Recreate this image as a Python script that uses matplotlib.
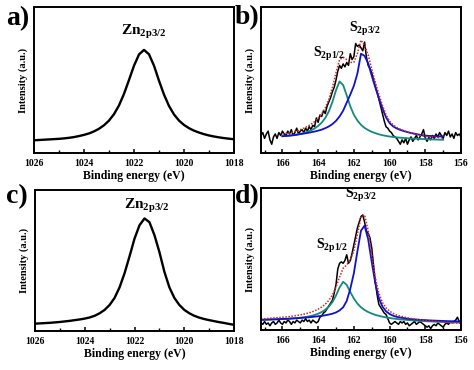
import numpy as np
import matplotlib
matplotlib.use("Agg")
import matplotlib.pyplot as plt
from matplotlib.ticker import MultipleLocator

plt.rcParams['font.family'] = ['Liberation Serif', 'DejaVu Serif']
plt.rcParams['font.weight'] = 'bold'
plt.rcParams['mathtext.fontset'] = 'custom'
plt.rcParams['mathtext.rm'] = 'Liberation Serif:bold'
plt.rcParams['mathtext.bf'] = 'Liberation Serif:bold'
plt.rcParams['mathtext.it'] = 'Liberation Serif:bold'

# Zn 2p3/2 spectra (a, c), energy grid 1026 -> 1018 step 0.2 eV
zn_start, zn_step = 1026.0, -0.2
zn_a = [0.087, 0.089, 0.091, 0.093, 0.095, 0.097, 0.100, 0.104, 0.109, 0.116,
        0.124, 0.134, 0.148, 0.166, 0.190, 0.222, 0.266, 0.326, 0.405, 0.500,
        0.598, 0.675, 0.706, 0.676, 0.598, 0.495, 0.400, 0.322, 0.264, 0.222,
        0.192, 0.170, 0.153, 0.140, 0.129, 0.120, 0.113, 0.107, 0.102, 0.098,
        0.094]
zn_c = [0.052, 0.054, 0.056, 0.058, 0.061, 0.064, 0.068, 0.072, 0.077, 0.082,
        0.088, 0.096, 0.108, 0.126, 0.150, 0.185, 0.235, 0.310, 0.410, 0.530,
        0.655, 0.750, 0.798, 0.772, 0.680, 0.560, 0.420, 0.310, 0.235, 0.185,
        0.150, 0.126, 0.108, 0.095, 0.085, 0.077, 0.070, 0.063, 0.057, 0.050,
        0.044]

# S 2p raw data, energy grid 167.2 -> 156.0 step 0.1 eV
raw_start, raw_step = 167.2, -0.1
raw_b = [0.12, 0.14, 0.10, 0.13, 0.15, 0.09, 0.06, 0.11, 0.13, 0.10,
         0.14, 0.12, 0.15, 0.13, 0.12, 0.15, 0.13, 0.16, 0.12, 0.14,
         0.17, 0.13, 0.15, 0.16, 0.14, 0.17, 0.15, 0.18, 0.16, 0.19,
         0.18, 0.24, 0.21, 0.26, 0.25, 0.29, 0.27, 0.32, 0.35, 0.38,
         0.42, 0.45, 0.50, 0.56, 0.60, 0.58, 0.61, 0.59, 0.62, 0.60,
         0.68, 0.64, 0.66, 0.75, 0.73, 0.74, 0.72, 0.70, 0.76, 0.66,
         0.60, 0.58, 0.55, 0.50, 0.46, 0.42, 0.37, 0.32, 0.27, 0.22,
         0.18, 0.17, 0.15, 0.14, 0.12, 0.11, 0.10, 0.08, 0.06, 0.09,
         0.07, 0.10, 0.06, 0.09, 0.11, 0.08, 0.10, 0.12, 0.09, 0.11,
         0.13, 0.16, 0.10, 0.08, 0.11, 0.09, 0.12, 0.10, 0.13, 0.11,
         0.14, 0.12, 0.10, 0.14, 0.12, 0.15, 0.11, 0.13, 0.10, 0.14,
         0.12, 0.13, 0.11]
raw_d = [0.05, 0.04, 0.06, 0.04, 0.05, 0.03, 0.05, 0.06, 0.04, 0.05,
         0.07, 0.05, 0.04, 0.06, 0.05, 0.07, 0.06, 0.04, 0.06, 0.05,
         0.07, 0.06, 0.05, 0.07, 0.06, 0.08, 0.06, 0.07, 0.05, 0.07,
         0.06, 0.05, 0.06, 0.09, 0.10, 0.12, 0.13, 0.15, 0.17, 0.19,
         0.21, 0.26, 0.32, 0.43, 0.47, 0.48, 0.47, 0.49, 0.53, 0.47,
         0.49, 0.54, 0.60, 0.66, 0.72, 0.76, 0.80, 0.81, 0.76, 0.70,
         0.68, 0.65, 0.58, 0.46, 0.34, 0.25, 0.18, 0.16, 0.14, 0.12,
         0.11, 0.08, 0.05, 0.04, 0.05, 0.06, 0.05, 0.04, 0.06, 0.05,
         0.06, 0.04, 0.05, 0.03, 0.04, 0.05, 0.06, 0.04, 0.05, 0.06,
         0.05, 0.04, 0.03, 0.02, 0.03, 0.01, 0.03, 0.04, 0.03, 0.05,
         0.04, 0.03, 0.02, 0.04, 0.05, 0.04, 0.06, 0.05, 0.06, 0.07,
         0.09, 0.06, 0.06]

# fitted components, panel b: 166.0 -> 157.0 step 0.2 eV
fit_b_start, fit_step = 166.0, -0.2
s12_b = [0.115, 0.117, 0.119, 0.122, 0.126, 0.131, 0.137, 0.145, 0.155, 0.168,
         0.185, 0.208, 0.240, 0.285, 0.350, 0.430, 0.490, 0.465, 0.395, 0.320,
         0.262, 0.222, 0.193, 0.172, 0.157, 0.145, 0.136, 0.128, 0.122, 0.117,
         0.113, 0.110, 0.107, 0.105, 0.103, 0.101, 0.099, 0.098, 0.097, 0.096,
         0.095, 0.094, 0.093, 0.092, 0.091, 0.091]
s32_b = [0.115, 0.117, 0.119, 0.122, 0.125, 0.129, 0.133, 0.137, 0.142, 0.147,
         0.153, 0.160, 0.170, 0.182, 0.198, 0.220, 0.250, 0.290, 0.345, 0.400,
         0.460, 0.545, 0.680, 0.665, 0.615, 0.530, 0.450, 0.375, 0.305, 0.245,
         0.205, 0.182, 0.168, 0.158, 0.150, 0.143, 0.137, 0.132, 0.127, 0.122,
         0.119, 0.117, 0.116, 0.115, 0.114, 0.114]
env_b = [0.130, 0.134, 0.138, 0.144, 0.151, 0.160, 0.170, 0.182, 0.197, 0.215,
         0.238, 0.268, 0.310, 0.367, 0.448, 0.550, 0.640, 0.655, 0.640, 0.620,
         0.622, 0.682, 0.773, 0.737, 0.672, 0.575, 0.486, 0.403, 0.327, 0.262,
         0.218, 0.192, 0.175, 0.163, 0.153, 0.144, 0.136, 0.130, 0.124, 0.118,
         0.114, 0.111, 0.109, 0.107, 0.105, 0.105]

# fitted components, panel d: 167.2 -> 156.0 step 0.2 eV
fit_d_start = 167.2
s12_d = [0.071, 0.072, 0.073, 0.074, 0.075, 0.076, 0.077, 0.078, 0.080, 0.082,
         0.084, 0.087, 0.090, 0.094, 0.099, 0.106, 0.115, 0.127, 0.143, 0.165,
         0.197, 0.243, 0.300, 0.340, 0.318, 0.268, 0.222, 0.186, 0.160, 0.141,
         0.127, 0.116, 0.107, 0.100, 0.094, 0.089, 0.085, 0.081, 0.078, 0.075,
         0.073, 0.071, 0.069, 0.067, 0.065, 0.064, 0.062, 0.061, 0.060, 0.059,
         0.058, 0.057, 0.056, 0.055, 0.054, 0.053, 0.052]
s32_d = [0.072, 0.073, 0.074, 0.075, 0.076, 0.077, 0.078, 0.079, 0.080, 0.082,
         0.083, 0.085, 0.087, 0.089, 0.091, 0.094, 0.097, 0.100, 0.104, 0.109,
         0.115, 0.124, 0.138, 0.160, 0.205, 0.290, 0.400, 0.555, 0.700, 0.735,
         0.640, 0.480, 0.330, 0.225, 0.165, 0.132, 0.113, 0.101, 0.093, 0.088,
         0.084, 0.080, 0.077, 0.075, 0.073, 0.071, 0.070, 0.068, 0.067, 0.066,
         0.065, 0.064, 0.063, 0.062, 0.062, 0.061, 0.060]
env_d = [0.078, 0.080, 0.082, 0.084, 0.086, 0.088, 0.090, 0.092, 0.095, 0.099,
         0.102, 0.107, 0.112, 0.118, 0.125, 0.135, 0.147, 0.162, 0.182, 0.209,
         0.247, 0.302, 0.373, 0.435, 0.458, 0.493, 0.557, 0.676, 0.795, 0.811,
         0.702, 0.531, 0.372, 0.260, 0.194, 0.156, 0.133, 0.117, 0.106, 0.098,
         0.092, 0.086, 0.081, 0.077, 0.073, 0.070, 0.067, 0.064, 0.062, 0.060,
         0.058, 0.056, 0.054, 0.052, 0.051, 0.049, 0.047]


def grid(start, step, vals):
    return start + step * np.arange(len(vals))


blk = 'black'
blue = '#1010d0'
teal = '#148a7c'
red = '#d02828'

fig = plt.figure(figsize=(4.74, 3.70), dpi=100)
ax_a = fig.add_axes([0.0717, 0.5865, 0.422, 0.3946])
ax_b = fig.add_axes([0.5506, 0.5865, 0.422, 0.3946])
ax_c = fig.add_axes([0.0738, 0.1054, 0.420, 0.3811])
ax_d = fig.add_axes([0.5506, 0.1080, 0.422, 0.3838])

ax_a.plot(grid(zn_start, zn_step, zn_a), zn_a, color=blk, lw=1.7)
ax_c.plot(grid(zn_start, zn_step, zn_c), zn_c, color=blk, lw=1.7)

ax_b.plot(grid(raw_start, raw_step, raw_b), raw_b, color=blk, lw=1.1)
ax_b.plot(grid(fit_b_start, fit_step, s12_b), s12_b, color=teal, lw=1.3)
ax_b.plot(grid(fit_b_start, fit_step, s32_b), s32_b, color=blue, lw=1.3)
ax_b.plot(grid(fit_b_start, fit_step, env_b), env_b, color=red, lw=1.1, ls=(0, (1, 1)))

ax_d.plot(grid(raw_start, raw_step, raw_d), raw_d, color=blk, lw=1.1)
ax_d.plot(grid(fit_d_start, fit_step, s12_d), s12_d, color=teal, lw=1.3)
ax_d.plot(grid(fit_d_start, fit_step, s32_d), s32_d, color=blue, lw=1.3)
ax_d.plot(grid(fit_d_start, fit_step, env_d), env_d, color=red, lw=1.1, ls=(0, (1, 1)))

for ax in [ax_a, ax_c]:
    ax.set_xlim(1026, 1018)
for ax in [ax_b, ax_d]:
    ax.set_xlim(167.2, 156)

for ax in [ax_a, ax_b, ax_c, ax_d]:
    ax.xaxis.set_major_locator(MultipleLocator(2))
    ax.xaxis.set_minor_locator(MultipleLocator(1))
    ax.set_ylim(0, 1)
    ax.set_yticks([])
    for s in ax.spines.values():
        s.set_linewidth(1.4)
    ax.tick_params(axis='x', which='major', direction='in', length=3, width=1.1,
                   labelsize=7, pad=4)
    ax.tick_params(axis='x', which='minor', direction='in', length=2, width=1.0)
    for lab in ax.get_xticklabels():
        lab.set_fontweight('bold')
    ax.set_xlabel('Binding energy (eV)', fontsize=8.5, fontweight='bold', labelpad=2)
    ax.set_ylabel('Intensity (a.u.)', fontsize=7.5, fontweight='bold', labelpad=4)

# annotations
ax_a.text(1021.6, 0.83, r'Zn$_{\rm 2p3/2}$', fontsize=11, ha='center', va='center')
ax_c.text(1021.5, 0.89, r'Zn$_{\rm 2p3/2}$', fontsize=11, ha='center', va='center')
ax_b.text(161.4, 0.85, r'S$_{\rm 2p3/2}$', fontsize=10, ha='center', va='center')
ax_b.text(163.4, 0.68, r'S$_{\rm 2p1/2}$', fontsize=10, ha='center', va='center')
ax_d.text(161.6, 0.95, r'S$_{\rm 2p3/2}$', fontsize=10, ha='center', va='center')
ax_d.text(163.2, 0.59, r'S$_{\rm 2p1/2}$', fontsize=10, ha='center', va='center')

# panel letters
for lab, (px, py) in zip(['a)', 'b)', 'c)', 'd)'],
                         [(6, 19), (235, 18), (6, 197), (235, 197)]):
    fig.text(px / 474, 1 - py / 370, lab, fontsize=20, fontweight='bold',
             ha='left', va='center')

plt.savefig('out.png', dpi=100)
